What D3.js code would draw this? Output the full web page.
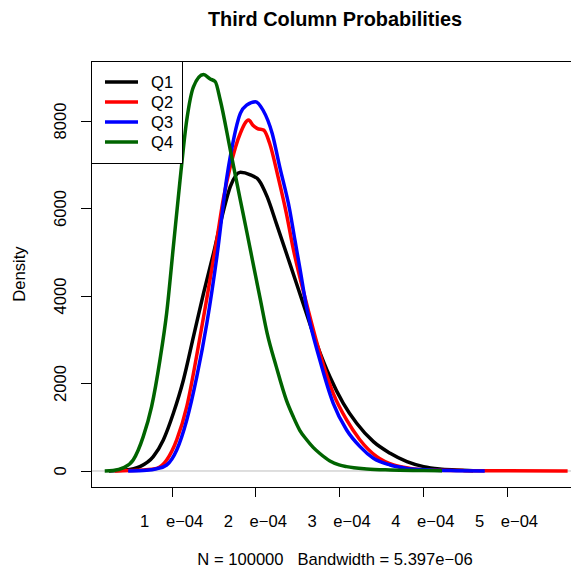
<!DOCTYPE html>
<html>
<head>
<meta charset="utf-8">
<script src="https://cdn.jsdelivr.net/npm/d3@7"></script>
<style>
  body { margin: 0; background: #fff; }
  svg { font-family: "Liberation Sans", Arial, Helvetica, sans-serif; }
</style>
</head>
<body>
<div id="chart"></div>
<script>
// x values are in units of 1e-04
var q1X = [0.25, 0.45, 0.62, 0.78, 0.90, 1.02, 1.14, 1.26, 1.38, 1.50, 1.62, 1.70, 1.82, 1.94, 2.04, 2.14, 2.25, 2.41, 2.57, 2.73, 2.89, 3.05, 3.21, 3.41, 3.61, 3.81, 4.01, 4.20, 4.40, 4.60];
var q1Y = [0, 20, 100, 330, 710, 1320, 2080, 3070, 4060, 4980, 5960, 6500, 6830, 6770, 6650, 6270, 5660, 4750, 3830, 2920, 2155, 1547, 1090, 670, 404, 213, 99, 46, 23, 5];

var q2X = [0.32, 0.50, 0.66, 0.82, 0.94, 1.06, 1.18, 1.30, 1.42, 1.54, 1.62, 1.70, 1.82, 1.92, 1.97, 2.02, 2.10, 2.17, 2.27, 2.37, 2.45, 2.61, 2.77, 2.93, 3.09, 3.25, 3.45, 3.65, 3.85, 4.09, 4.50, 5.00, 5.73];
var q2Y = [0, 10, 25, 60, 250, 710, 1470, 2650, 3950, 5300, 6250, 6955, 7720, 8020, 7900, 7830, 7790, 7490, 6730, 5890, 5100, 3833, 2690, 1776, 1166, 709, 327, 137, 60, 23, 8, 3, 0];

var q3X = [0.48, 0.70, 0.82, 0.94, 1.06, 1.18, 1.30, 1.42, 1.54, 1.66, 1.70, 1.82, 1.90, 2.00, 2.09, 2.20, 2.29, 2.41, 2.47, 2.53, 2.61, 2.77, 2.93, 3.09, 3.25, 3.41, 3.61, 3.81, 4.09, 4.40, 4.74];
var q3Y = [0, 15, 50, 137, 480, 1166, 2155, 3375, 4900, 6727, 7184, 8176, 8366, 8442, 8251, 7719, 6955, 5966, 5300, 4650, 3755, 2537, 1547, 937, 556, 290, 137, 60, 23, 8, 0];

var q4X = [0.20, 0.30, 0.42, 0.54, 0.66, 0.76, 0.86, 0.94, 1.02, 1.10, 1.18, 1.26, 1.38, 1.46, 1.52, 1.58, 1.70, 1.82, 1.90, 1.98, 2.06, 2.14, 2.25, 2.37, 2.45, 2.53, 2.61, 2.69, 2.77, 2.89, 3.00, 3.09, 3.33, 3.61, 4.00, 4.23];
var q4Y = [0, 10, 70, 250, 785, 1470, 2540, 3610, 5130, 6650, 8020, 8780, 9060, 8960, 8900, 8480, 7340, 6190, 5440, 4670, 3910, 3150, 2380, 1620, 1250, 930, 720, 540, 400, 230, 140, 99, 46, 23, 10, 3];

var seriesNames = ["Q1", "Q2", "Q3", "Q4"];
var seriesColors = ["black", "red", "blue", "#006400"];
var xTicks = [1, 2, 3, 4, 5];
var yTicks = [0, 2000, 4000, 6000, 8000];

var width = 571, height = 571;
var plotLeft = 91, plotRight = 579, plotTop = 61, plotBottom = 487;

var svg = d3.select("#chart").append("svg")
    .attr("width", width)
    .attr("height", height);

var xScale = d3.scaleLinear()
    .domain([0.036, 5.866])
    .range([plotLeft, plotRight]);

var yScale = d3.scaleLinear()
    .domain([-366, 9371])
    .range([plotBottom, plotTop]);

var line = d3.line()
    .x(function (d) { return xScale(d[0]); })
    .y(function (d) { return yScale(d[1]); })
    .curve(d3.curveMonotoneX);

function pairs(xs, ys) {
    return xs.map(function (x, i) { return [x, ys[i]]; });
}

var series = [pairs(q1X, q1Y), pairs(q2X, q2Y), pairs(q3X, q3Y), pairs(q4X, q4Y)];

// first curve, then the zero line, then the others (same order as plot + lines)
svg.append("path")
    .attr("d", line(series[0]))
    .attr("fill", "none")
    .attr("stroke", seriesColors[0])
    .attr("stroke-width", 3.5)
    .attr("stroke-linejoin", "round");

svg.append("line")
    .attr("x1", plotLeft).attr("x2", plotRight)
    .attr("y1", yScale(0)).attr("y2", yScale(0))
    .attr("stroke", "#bebebe")
    .attr("stroke-width", 1);

for (var i = 1; i < series.length; i++) {
    svg.append("path")
        .attr("d", line(series[i]))
        .attr("fill", "none")
        .attr("stroke", seriesColors[i])
        .attr("stroke-width", 3.5)
        .attr("stroke-linejoin", "round");
}

// plot box
svg.append("rect")
    .attr("x", plotLeft + 0.5)
    .attr("y", plotTop + 0.5)
    .attr("width", plotRight - plotLeft)
    .attr("height", plotBottom - plotTop)
    .attr("fill", "none")
    .attr("stroke", "black")
    .attr("stroke-width", 1);

// x axis
var xAxis = svg.append("g");
xAxis.append("line")
    .attr("x1", xScale(xTicks[0])).attr("x2", xScale(xTicks[xTicks.length - 1]))
    .attr("y1", plotBottom + 0.5).attr("y2", plotBottom + 0.5)
    .attr("stroke", "black");
xAxis.selectAll(".xtick")
    .data(xTicks)
    .enter()
    .append("line")
    .attr("x1", function (d) { return Math.round(xScale(d)) + 0.5; })
    .attr("x2", function (d) { return Math.round(xScale(d)) + 0.5; })
    .attr("y1", plotBottom)
    .attr("y2", plotBottom + 10)
    .attr("stroke", "black");
var xLabels = xAxis.selectAll(".xlab")
    .data(xTicks)
    .enter()
    .append("text")
    .attr("x", function (d) { return xScale(d); })
    .attr("y", 527)
    .attr("text-anchor", "middle")
    .style("font-size", "16.6px");
xLabels.append("tspan").text(function (d) { return d; });
xLabels.append("tspan").attr("dx", "1em").text("e\u221204");

// y axis
var yAxis = svg.append("g");
yAxis.append("line")
    .attr("x1", plotLeft + 0.5).attr("x2", plotLeft + 0.5)
    .attr("y1", yScale(yTicks[0])).attr("y2", yScale(yTicks[yTicks.length - 1]))
    .attr("stroke", "black");
yAxis.selectAll(".ytick")
    .data(yTicks)
    .enter()
    .append("line")
    .attr("x1", plotLeft - 10)
    .attr("x2", plotLeft)
    .attr("y1", function (d) { return Math.round(yScale(d)) + 0.5; })
    .attr("y2", function (d) { return Math.round(yScale(d)) + 0.5; })
    .attr("stroke", "black");
yAxis.selectAll(".ylab")
    .data(yTicks)
    .enter()
    .append("text")
    .attr("transform", function (d) {
        return "translate(65.7," + yScale(d) + ") rotate(-90)";
    })
    .attr("text-anchor", "middle")
    .style("font-size", "16.6px")
    .text(function (d) { return d; });

// axis titles
svg.append("text")
    .attr("transform", "translate(25," + ((plotTop + plotBottom) / 2) + ") rotate(-90)")
    .attr("text-anchor", "middle")
    .style("font-size", "16.6px")
    .text("Density");

svg.append("text")
    .attr("x", (plotLeft + plotRight) / 2)
    .attr("y", 564.5)
    .attr("text-anchor", "middle")
    .style("font-size", "16.6px")
    .style("white-space", "pre")
    .text("N = 100000   Bandwidth = 5.397e\u221206");

svg.append("text")
    .attr("x", (plotLeft + plotRight) / 2)
    .attr("y", 26)
    .attr("text-anchor", "middle")
    .style("font-size", "19.9px")
    .style("font-weight", "bold")
    .text("Third Column Probabilities");

// legend
var legend = svg.append("g");
legend.append("rect")
    .attr("x", plotLeft + 0.5)
    .attr("y", plotTop + 0.5)
    .attr("width", 91)
    .attr("height", 102)
    .attr("fill", "white")
    .attr("stroke", "black");
var items = legend.selectAll(".item")
    .data(seriesNames)
    .enter()
    .append("g")
    .attr("transform", function (d, i) { return "translate(0," + (82 + i * 20) + ")"; });
items.append("line")
    .attr("x1", 105).attr("x2", 138)
    .attr("y1", 0).attr("y2", 0)
    .attr("stroke", function (d, i) { return seriesColors[i]; })
    .attr("stroke-width", 3.5);
items.append("text")
    .attr("x", 151)
    .attr("y", 6)
    .style("font-size", "16.6px")
    .text(function (d) { return d; });
</script>
</body>
</html>
